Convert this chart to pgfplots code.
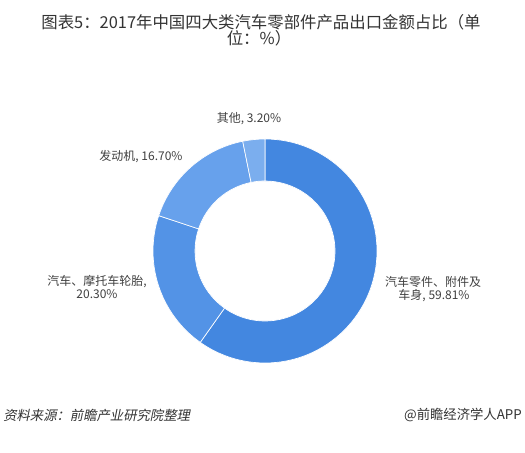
\documentclass[border=0pt]{standalone}
\usepackage{pgfplots}
\pgfplotsset{compat=1.18}
\usepackage{pgfplotstable}
\usepackage{fontspec}
\setmainfont{Noto Sans CJK SC}
\newfontfamily\cjkit[FakeSlant=0.2]{Noto Sans CJK SC}
\definecolor{col0}{HTML}{4387E0}
\definecolor{col1}{HTML}{5393E6}
\definecolor{col2}{HTML}{67A1EC}
\definecolor{col3}{HTML}{7BAEEE}
\definecolor{txt}{HTML}{404040}
\definecolor{ttl}{HTML}{333333}

\pgfplotstableread{
value
59.81
20.30
16.70
3.20
}\piedata

\begin{document}
\begin{tikzpicture}
\fill[white] (0,0) rectangle (393.75pt,339.75pt);
\path[use as bounding box] (0,0) rectangle (393.75pt,339.75pt);
\begin{axis}[hide axis, scale only axis, width=168pt, height=168pt,
  xmin=-1, xmax=1, ymin=-1, ymax=1,
  at={(198.75pt,151.5pt)}, anchor=center]
\def\cum{0}
\pgfplotsforeachungrouped \i in {0,...,3}{%
  \pgfplotstablegetelem{\i}{value}\of\piedata
  \let\v\pgfplotsretval
  \pgfmathsetmacro{\a}{90-3.6*\cum}%
  \pgfmathsetmacro{\b}{90-3.6*(\cum+\v)}%
  \pgfmathsetmacro{\cum}{\cum+\v}%
  \edef\cmd{\noexpand\fill[col\i, draw=white, line width=0.5pt]
    (axis cs:{cos(\a)},{sin(\a)}) arc[start angle=\a, end angle=\b, radius=84pt]
    -- (axis cs:{0.625*cos(\b)},{0.625*sin(\b)}) arc[start angle=\b, end angle=\a, radius=52.5pt]
    -- cycle;}%
  \cmd
}
\end{axis}
% title
\node[ttl, font=\fontsize{12.3}{15}\selectfont] at (195.75pt,323.25pt) {图表5：2017年中国四大类汽车零部件产品出口金额占比（单};
\node[ttl, font=\fontsize{12.3}{15}\selectfont] at (194.25pt,311.25pt) {位：\%）};
% labels
\node[txt, font=\fontsize{9}{11}\selectfont] at (186.75pt,250.5pt) {其他, 3.20\%};
\node[txt, font=\fontsize{9}{11}\selectfont] at (105.75pt,222pt) {发动机, 16.70\%};
\node[txt, font=\fontsize{9}{11}\selectfont] at (72.75pt,128.25pt) {汽车、摩托车轮胎,};
\node[txt, font=\fontsize{9}{11}\selectfont] at (72.75pt,119.25pt) {20.30\%};
\node[txt, font=\fontsize{9}{11}\selectfont] at (324.75pt,128.25pt) {汽车零件、附件及};
\node[txt, font=\fontsize{9}{11}\selectfont] at (325.5pt,117.75pt) {车身, 59.81\%};
% footer
\node[ttl, anchor=west, inner sep=0pt, font=\fontsize{10}{12}\cjkit] at (2.25pt,28.5pt) {资料来源：前瞻产业研究院整理};
\node[ttl, anchor=east, inner sep=0pt, font=\fontsize{10}{12}\selectfont] at (391.5pt,28.5pt) {@前瞻经济学人APP};
\end{tikzpicture}
\end{document}
